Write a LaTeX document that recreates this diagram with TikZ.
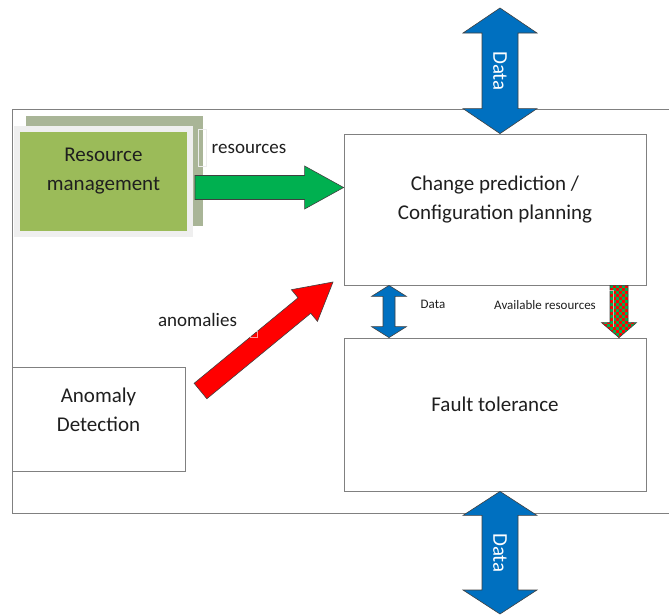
\documentclass[tikz,border=0pt]{standalone}
\usepackage{fontspec}
\setmainfont{Carlito}
\usetikzlibrary{calc}

\definecolor{frameGray}{HTML}{808080}
\definecolor{rmGreen}{HTML}{9BBB59}
\definecolor{rmShadow}{HTML}{A9B597}
\definecolor{rmRim}{HTML}{EFEFEF}
\definecolor{arrGreen}{HTML}{00B050}
\definecolor{arrBlue}{HTML}{0070C0}
\definecolor{arrRed}{HTML}{FF0000}
\definecolor{arrEdge}{HTML}{404040}

% single block arrow: #1 style, #2 tail, #3 tip, #4 shaft half width, #5 head half width, #6 head length
\newcommand\blockarrow[6]{%
  \coordinate (ba-h) at ($#3!#6!#2$);
  \path[#1] ($#2!#4!90:#3$) -- ($(ba-h)!#4!90:#3$) -- ($(ba-h)!#5!90:#3$) -- #3
    -- ($(ba-h)!#5!-90:#3$) -- ($(ba-h)!#4!-90:#3$) -- ($#2!#4!-90:#3$) -- cycle;}
% double block arrow: same arguments, heads at both ends
\newcommand\dblarrow[6]{%
  \coordinate (da-a) at ($#2!#6!#3$);
  \coordinate (da-b) at ($#3!#6!#2$);
  \path[#1] #2 -- ($(da-a)!#5!90:#3$) -- ($(da-a)!#4!90:#3$) -- ($(da-b)!#4!90:#3$)
    -- ($(da-b)!#5!90:#3$) -- #3 -- ($(da-b)!#5!-90:#3$) -- ($(da-b)!#4!-90:#3$)
    -- ($(da-a)!#4!-90:#3$) -- ($(da-a)!#5!-90:#3$) -- cycle;}

\tikzset{
  box/.style={draw=frameGray, line width=0.8pt, fill=white, inner sep=0pt},
  boxtext/.style={font=\fontsize{21}{29}\selectfont, align=center, text=black!88},
  label/.style={font=\fontsize{19}{23}\selectfont, text=black!88},
  smalllabel/.style={font=\fontsize{13}{16}\selectfont, text=black!88},
  bluearrow/.style={fill=arrBlue, draw=arrEdge, line width=0.6pt, line join=miter},
  ghost/.style={draw=white, opacity=0.6, line width=0.6pt},
}

\begin{document}
\begin{tikzpicture}[x=1pt, y=-1pt]
\useasboundingbox (0,0) rectangle (669,614);
\fill[white] (0,0) rectangle (669,614);

% system frame, open on the right
\draw[frameGray, line width=0.8pt] (669,109) -- (12,109) -- (12,513) -- (669,513);

% main blocks
\node[box, minimum width=302pt, minimum height=151pt] (cp) at (495,209.5) {};
\node[boxtext] (cpt) at (495,200) {Change prediction /\\Configuration planning};
\node[box, minimum width=302pt, minimum height=153pt] (ft) at (495,414.5) {};
\node[boxtext] (ftt) at (495,404) {Fault tolerance};
\node[box, minimum width=173pt, minimum height=104pt] (ad) at (98.5,419) {};
\node[boxtext] (adt) at (98.5,409.5) {Anomaly\\Detection};

% resource management with its shadow and rim
\fill[rmShadow] (26,116) rectangle (203,226);
\draw[white!85!gray, line width=0.6pt] (198,129) rectangle (206,166);
\fill[rmRim] (14,126) rectangle (193,237);
\node[fill=rmGreen, inner sep=0pt, minimum width=167pt, minimum height=99pt] (rm) at (103.5,181.5) {};
\node[boxtext] (rmt) at (103.5,171) {Resource\\management};

% anchor points for the block arrows
\coordinate (topfree) at (500,8);
\coordinate (botfree) at (500,614);
\coordinate (rmout) at (195,187.5);
\coordinate (adout) at (200.5,391);
\coordinate (cpin) at (333,282);

% resources: green arrow into planning
\blockarrow{fill=arrGreen, draw=arrEdge, line width=0.6pt}{(rmout)}{(cp.west |- rmout)}{12pt}{21.5pt}{39pt}
\node[label] (res) at (249,149) {resources};

% anomalies: red arrow into planning
\blockarrow{fill=arrRed, draw=arrEdge, line width=0.6pt}{(adout)}{(cpin)}{10pt}{20.5pt}{37pt}
\draw[ghost] (250,331) rectangle (257,337);
\node[label] (anom) at (197.5,320) {anomalies};

% data exchange in and out of the system
\dblarrow{bluearrow}{(topfree)}{(cp.north -| topfree)}{18pt}{37pt}{25pt}
\node[rotate=-90, text=white, font=\fontsize{21}{25}\selectfont] (d1) at (500,71) {Data};
\dblarrow{bluearrow}{(ft.south -| botfree)}{(botfree)}{18pt}{37pt}{24pt}
\node[rotate=-90, text=white, font=\fontsize{21}{25}\selectfont] (d2) at (500,553) {Data};

% data between planning and fault tolerance
\coordinate (dx) at (389,0);
\dblarrow{bluearrow}{(cp.south -| dx)}{(ft.north -| dx)}{6pt}{17.5pt}{11pt}
\node[smalllabel] (dl) at (433,304) {Data};

% available resources: red/green checkered arrow down into fault tolerance
\coordinate (ax) at (619,0);
\begin{scope}
  \blockarrow{clip}{(cp.south -| ax)}{(ft.north -| ax)}{9pt}{17.5pt}{15pt}
  \fill[arrGreen] (598,282) rectangle (640,340);
  \foreach \i in {0,...,13} {
    \foreach \j in {0,...,19} {
      \pgfmathtruncatemacro\chk{mod(\i+\j,2)}
      \ifnum\chk=0 \fill[arrRed] (598+3*\i,282+3*\j) rectangle ++(3,3);\fi
    }
  }
\end{scope}
\blockarrow{draw=arrEdge, line width=0.6pt}{(cp.south -| ax)}{(ft.north -| ax)}{9pt}{17.5pt}{15pt}
\draw[ghost] (608,290) -- (613.5,290) -- (613.5,327);
\node[smalllabel] (al) at (545,305) {Available resources};
\end{tikzpicture}
\end{document}
